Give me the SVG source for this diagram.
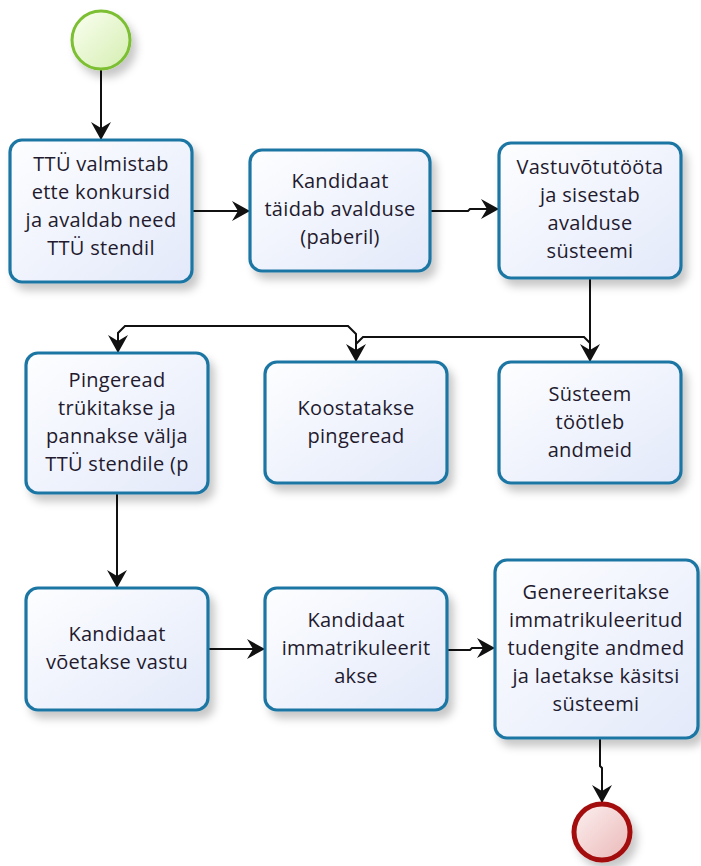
<svg xmlns="http://www.w3.org/2000/svg" width="701" height="866" viewBox="0 0 701 866">
  <style>
    .task rect { fill: url(#taskFill); stroke: #1f76a3; stroke-width: 3.2; filter: url(#shadow); }
    .label { font-family: "Open Sans", "Noto Sans", "DejaVu Sans", sans-serif; font-size: 20px; fill: #231a2e; text-anchor: middle; letter-spacing: 0.3px; }
    .flow { fill: none; stroke: #111; stroke-width: 2; marker-end: url(#arrow); }
  </style>
  <defs>
    <linearGradient id="taskFill" x1="0" y1="0" x2="1" y2="1">
      <stop offset="0" stop-color="#fdfeff"/>
      <stop offset="1" stop-color="#e3e9fa"/>
    </linearGradient>
    <linearGradient id="startFill" x1="0" y1="0" x2="1" y2="1">
      <stop offset="0" stop-color="#fbfff2"/>
      <stop offset="1" stop-color="#d4eeb0"/>
    </linearGradient>
    <linearGradient id="endFill" x1="0" y1="0" x2="1" y2="1">
      <stop offset="0" stop-color="#fdf1f1"/>
      <stop offset="1" stop-color="#eab7b7"/>
    </linearGradient>
    <filter id="shadow" x="-20%" y="-20%" width="150%" height="150%">
      <feGaussianBlur in="SourceAlpha" stdDeviation="4"/>
      <feOffset dx="5" dy="7" result="b"/>
      <feFlood flood-color="#000" flood-opacity="0.22"/>
      <feComposite in2="b" operator="in"/>
      <feMerge><feMergeNode/><feMergeNode in="SourceGraphic"/></feMerge>
    </filter>
    <marker id="arrow" viewBox="0 0 18 20" refX="18" refY="10" markerWidth="18" markerHeight="20" markerUnits="userSpaceOnUse" orient="auto">
      <path d="M0,0 L18,10 L0,20 L6,10 Z" fill="#111"/>
    </marker>
  </defs>

  <g id="connectors">
    <path class="flow" d="M101,70 L101,140"/>
    <path class="flow" d="M192,211 L250,211"/>
    <path class="flow" d="M430,211 L468,211 L470,209 L499,209"/>
    <path class="flow" d="M590,278 L590,362"/>
    <path class="flow" d="M590,343 L584,337 L363,337 L356,344 L356,362"/>
    <path class="flow" d="M356,362 L356,334 L348,326 L125,326 L118,333 L118,353"/>
    <path class="flow" d="M117,493 L117,588"/>
    <path class="flow" d="M208,649 L265,649"/>
    <path class="flow" d="M447,650 L470,650 L472,648 L495,648"/>
    <path class="flow" d="M600,738 L600,766 L602,768 L602,803"/>
  </g>

  <g id="start">
    <circle cx="101" cy="40" r="29" fill="url(#startFill)" stroke="#7cbf33" stroke-width="3" filter="url(#shadow)"/>
  </g>

  <g id="task1" class="task">
    <rect x="10" y="140" width="182" height="142" rx="12"/>
    <text class="label" x="101" y="171">TTÜ valmistab</text>
    <text class="label" x="101" y="199">ette konkursid</text>
    <text class="label" x="101" y="227">ja avaldab need</text>
    <text class="label" x="101" y="255">TTÜ stendil</text>
  </g>

  <g id="task2" class="task">
    <rect x="250" y="150" width="180" height="121" rx="12"/>
    <text class="label" x="340" y="188">Kandidaat</text>
    <text class="label" x="340" y="216">täidab avalduse</text>
    <text class="label" x="340" y="244">(paberil)</text>
  </g>

  <g id="task3" class="task">
    <rect x="499" y="143" width="182" height="135" rx="12"/>
    <text class="label" x="590" y="174">Vastuvõtutööta</text>
    <text class="label" x="590" y="202">ja sisestab</text>
    <text class="label" x="590" y="230">avalduse</text>
    <text class="label" x="590" y="258">süsteemi</text>
  </g>

  <g id="task4" class="task">
    <rect x="26" y="353" width="182" height="140" rx="12"/>
    <text class="label" x="117" y="387">Pingeread</text>
    <text class="label" x="117" y="415">trükitakse ja</text>
    <text class="label" x="117" y="443">pannakse välja</text>
    <text class="label" x="117" y="471">TTÜ stendile (p</text>
  </g>

  <g id="task5" class="task">
    <rect x="265" y="362" width="182" height="121" rx="12"/>
    <text class="label" x="356" y="415">Koostatakse</text>
    <text class="label" x="356" y="443">pingeread</text>
  </g>

  <g id="task6" class="task">
    <rect x="499" y="362" width="182" height="121" rx="12"/>
    <text class="label" x="590" y="401">Süsteem</text>
    <text class="label" x="590" y="429">töötleb</text>
    <text class="label" x="590" y="457">andmeid</text>
  </g>

  <g id="task7" class="task">
    <rect x="26" y="588" width="182" height="122" rx="12"/>
    <text class="label" x="117" y="641">Kandidaat</text>
    <text class="label" x="117" y="669">võetakse vastu</text>
  </g>

  <g id="task8" class="task">
    <rect x="265" y="588" width="182" height="122" rx="12"/>
    <text class="label" x="356" y="627">Kandidaat</text>
    <text class="label" x="356" y="655">immatrikuleerit</text>
    <text class="label" x="356" y="683">akse</text>
  </g>

  <g id="task9" class="task">
    <rect x="495" y="560" width="203" height="178" rx="12"/>
    <text class="label" x="596" y="599">Genereeritakse</text>
    <text class="label" x="596" y="627">immatrikuleeritud</text>
    <text class="label" x="596" y="655">tudengite andmed</text>
    <text class="label" x="596" y="683">ja laetakse käsitsi</text>
    <text class="label" x="596" y="711">süsteemi</text>
  </g>

  <g id="end">
    <circle cx="602" cy="832" r="28" fill="url(#endFill)" stroke="#a30f0f" stroke-width="5" filter="url(#shadow)"/>
  </g>
</svg>
